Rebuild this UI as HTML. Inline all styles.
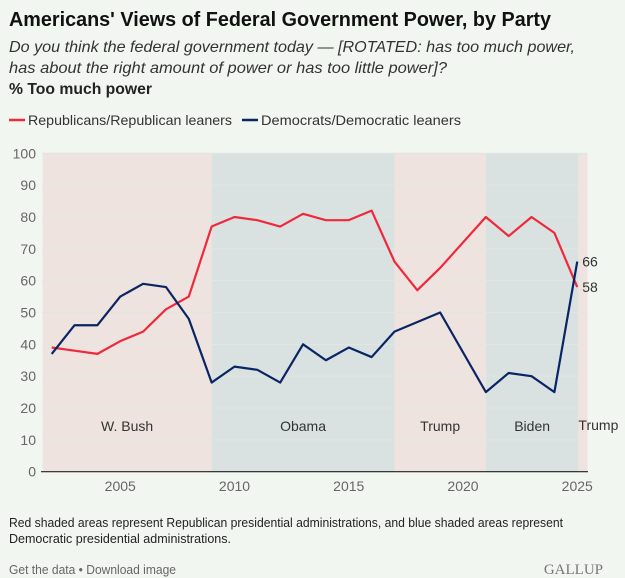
<!DOCTYPE html>
<html><head><meta charset="utf-8"><style>
html,body{margin:0;padding:0;background:#f1f6f0;}
svg{display:block;font-family:"Liberation Sans",sans-serif;}
</style></head><body>
<svg id="c" width="625" height="578" viewBox="0 0 625 578">
<rect width="625" height="578" fill="#f1f6f0"/>
<text x="9" y="26" font-size="20" font-weight="bold" fill="#111" textLength="542" lengthAdjust="spacingAndGlyphs">Americans' Views of Federal Government Power, by Party</text>
<text x="9" y="52" font-size="16" font-style="italic" fill="#333" textLength="566" lengthAdjust="spacingAndGlyphs">Do you think the federal government today — [ROTATED: has too much power,</text>
<text x="9" y="73" font-size="16" font-style="italic" fill="#333" textLength="438" lengthAdjust="spacingAndGlyphs">has about the right amount of power or has too little power]?</text>
<text x="9" y="94" font-size="16" font-weight="bold" fill="#222" textLength="143" lengthAdjust="spacingAndGlyphs">% Too much power</text>
<g>
<line x1="9" y1="120" x2="25" y2="120" stroke="#f0283c" stroke-width="2.5"/>
<text x="28" y="125" font-size="14" fill="#333" textLength="204" lengthAdjust="spacingAndGlyphs">Republicans/Republican leaners</text>
<line x1="242" y1="120" x2="258" y2="120" stroke="#0a2563" stroke-width="2.5"/>
<text x="261" y="125" font-size="14" fill="#333" textLength="200" lengthAdjust="spacingAndGlyphs">Democrats/Democratic leaners</text>
</g>
<g id="plot"></g>
<text x="9" y="527" font-size="12.5" fill="#222" textLength="554" lengthAdjust="spacingAndGlyphs">Red shaded areas represent Republican presidential administrations, and blue shaded areas represent</text>
<text x="9" y="543" font-size="12.5" fill="#222" textLength="222" lengthAdjust="spacingAndGlyphs">Democratic presidential administrations.</text>
<text x="9" y="574" font-size="12.5" fill="#666" textLength="167" lengthAdjust="spacingAndGlyphs">Get the data • Download image</text>
<text x="603" y="574" font-size="15" text-anchor="end" fill="#777" font-family="Liberation Serif, serif">GALLUP</text>
</svg>
<script>
const repYears=[2002,2003,2004,2005,2006,2007,2008,2009,2010,2011,2012,2013,2014,2015,2016,2017,2018,2019,2021,2022,2023,2024,2025];
const repValues=[39,38,37,41,44,51,55,77,80,79,77,81,79,79,82,66,57,64,80,74,80,75,58];
const demYears=[2002,2003,2004,2005,2006,2007,2008,2009,2010,2011,2012,2013,2014,2015,2016,2017,2019,2021,2022,2023,2024,2025];
const demValues=[37,46,46,55,59,58,48,28,33,32,28,40,35,39,36,44,50,25,31,30,25,66];
const yTicks=[0,10,20,30,40,50,60,70,80,90,100];
const xTicks=[2005,2010,2015,2020,2025];
const periodNames=["W. Bush","Obama","Trump","Biden","Trump"];
const periodStart=[2001.6,2009,2017,2021,2025.05];
const periodEnd=[2009,2017,2021,2025.05,2025.45];
const periodParty=["R","D","R","D","R"];

const NS="http://www.w3.org/2000/svg";
const g=document.getElementById('plot');
const X=y=>51.7+(y-2002)*22.85;
const Y=v=>471.7-v*3.184;
function mk(t,a){const e=document.createElementNS(NS,t);for(const k in a)e.setAttribute(k,a[k]);g.appendChild(e);return e;}
periodNames.forEach((n,i)=>{
  const x0=X(periodStart[i]),x1=X(periodEnd[i]);
  const r=mk('rect',{x:x0,y:Y(100),width:x1-x0,height:Y(0)-Y(100),fill:periodParty[i]=='R'?'#efe3df':'#d9e1e1'});
  
  
});
yTicks.forEach(v=>{
  if(v>0){const l=mk('line',{x1:42,x2:587,y1:Y(v),y2:Y(v),stroke:'#dfe8e0','stroke-width':1});
  
  }
  const t=mk('text',{x:36,y:Y(v)+5,'font-size':14,'text-anchor':'end',fill:'#666'});t.textContent=v;
  
  
});
const ax=mk('line',{x1:41,x2:588,y1:Y(0),y2:Y(0),stroke:'#222','stroke-width':1.2});


xTicks.forEach(y=>{
  const t=mk('text',{x:X(y),y:491,'font-size':14,'text-anchor':'middle',fill:'#666'});t.textContent=y;
  
  
});
periodNames.forEach((n,i)=>{
  const last=i==periodNames.length-1;
  const cx=last?X(periodStart[i])+20:(X(periodStart[i])+X(periodEnd[i]))/2;
  const t=mk('text',{x:cx,y:last?430:431,'font-size':14,'text-anchor':'middle',fill:'#333'});t.textContent=n;
  
  
});
function line(ys,vs,col,name){
  const p=mk('polyline',{points:ys.map((y,i)=>X(y)+','+Y(vs[i])).join(' '),fill:'none',stroke:col,'stroke-width':2.2,'stroke-linejoin':'round'});
  
  
  const li=vs.length-1;
  const t=mk('text',{x:X(ys[li])+5,y:Y(vs[li])+5,'font-size':14,fill:'#333'});t.textContent=vs[li];
  
  
}
line(repYears,repValues,'#f0283c','republicans-line');
line(demYears,demValues,'#0a2563','democrats-line');
</script>
</body></html>
